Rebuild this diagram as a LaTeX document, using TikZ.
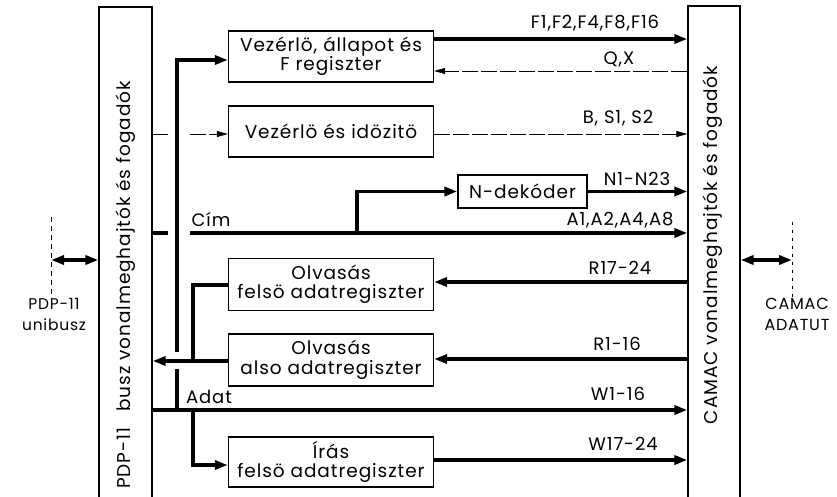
\documentclass[tikz,border=0pt]{standalone}
\usepackage{fontspec}
\setmainfont{Poppins}[LetterSpace=5]
\usetikzlibrary{arrows.meta}
\begin{document}
\begin{tikzpicture}[x=1pt,y=-1pt,
  every node/.style={font=\fontsize{18}{20}\selectfont},
  blk/.style={draw, line width=1.3pt, minimum width=205pt, minimum height=51pt, inner sep=0pt, align=center, font=\fontsize{18.5}{19.5}\selectfont},
  busbox/.style={draw, line width=1.3pt, minimum width=53pt, inner sep=0pt},
  bus/.style={line width=3.6pt},
  thinl/.style={line width=0.7pt, dash pattern=on 16pt off 3pt},
  tip/.style={-{Triangle[length=13pt,width=9pt]}},
  both/.style={{Triangle[length=13pt,width=9pt]}-{Triangle[length=13pt,width=9pt]}},
  tipt/.style={-{Triangle[length=11pt,width=6pt]}},
  lab/.style={inner sep=0pt, anchor=center},
  rot/.style={rotate=90, inner sep=0pt, font=\fontsize{18.5}{24}\selectfont}
]
\useasboundingbox (0,0) rectangle (837,497);
% bus boxes
\node[busbox, minimum height=493pt] (lbus) at (125.5,253.5) {};
\node[busbox, minimum height=494pt, minimum width=52pt] (rbus) at (714,253) {};
\node[rot] (ltxt) at (126,285) {PDP-11\hspace{16pt}busz vonalmeghajtók és fogadók};
\node[rot] (rtxt) at (713,245) {CAMAC vonalmeghajtók és fogadók};
% blocks
\node[blk] (b1) at (331,56.5) {Vezérlö, állapot és\\F regiszter};
\node[blk] (b2) at (331,131.5) {Vezérlö és idözitö};
\node[draw, line width=1.3pt, minimum width=129pt, minimum height=33pt, inner sep=0pt, font=\fontsize{18.5}{19.5}\selectfont] (nd) at (522.5,191.5) {N-dekóder};
\node[blk, minimum height=52pt] (of) at (331,284.5) {Olvasás\\felsö adatregiszter};
\node[blk, minimum height=52pt] (oa) at (331,360) {Olvasás\\also adatregiszter};
\node[blk, minimum height=50pt] (ir) at (331,462) {Írás\\felsö adatregiszter};
% y-levels
\coordinate (yF) at (0,39);
\coordinate (yQ) at (0,71);
\coordinate (yB) at (0,134);
\coordinate (yA) at (0,233);
\coordinate (yR) at (0,282);
\coordinate (yOf) at (0,285);
\coordinate (yRa) at (0,359);
\coordinate (yOa) at (0,361);
\coordinate (yD) at (0,410);
\coordinate (yW) at (0,460);
\coordinate (yWi) at (0,465);
\coordinate (yX) at (0,260);
% helper points
\coordinate (g1) at (168,134);
\coordinate (g2) at (190,134);
\coordinate (g3) at (168,233);
\coordinate (g4) at (190,233);
\coordinate (vt) at (177,60);
\coordinate (va) at (177,352);
\coordinate (vb) at (177,369);
\coordinate (vc) at (177,410);
\coordinate (nb) at (357,233);
\coordinate (j1) at (193,285);
\coordinate (j2) at (193,361);
\coordinate (j3) at (193,410);
\coordinate (pl) at (51,260);
\coordinate (pt) at (51,217);
\coordinate (pb) at (51,300);
\coordinate (cr) at (792,260);
\coordinate (ct) at (792,222);
\coordinate (cb) at (792,302);
% connectors
\draw[bus, tip] (b1.east |- yF) -- (rbus.west |- yF);
\draw[thinl, tipt] (rbus.west |- yQ) -- (b1.east |- yQ);
\draw[thinl] (lbus.east |- yB) -- (g1);
\draw[thinl, tipt] (g2) -- (b2.west |- yB);
\draw[thinl, tipt] (b2.east |- yB) -- (rbus.west |- yB);
\draw[bus, tip] (nd.east) -- (rbus.west |- nd.east);
\draw[bus] (lbus.east |- yA) -- (g3);
\draw[bus, tip] (g4) -- (rbus.west |- yA);
\draw[bus, tip] (nb) |- (nd.west);
\draw[bus, tip] (rbus.west |- yR) -- (of.east |- yR);
\draw[bus] (of.west |- yOf) -- (j1) -- (j2);
\draw[bus, tip] (rbus.west |- yRa) -- (oa.east |- yRa);
\draw[bus, tip] (oa.west |- yOa) -- (lbus.east |- yOa);
\draw[bus, tip] (va) -- (vt) -- (b1.west |- vt);
\draw[bus] (vb) -- (vc);
\draw[bus, tip] (lbus.east |- yD) -- (rbus.west |- yD);
\draw[bus, tip] (j3) |- (ir.west |- yWi);
\draw[bus, tip] (ir.east |- yW) -- (rbus.west |- yW);
\draw[bus, both] (pl) -- (lbus.west |- yX);
\draw[thinl, dash pattern=on 5pt off 4pt] (pt) -- (pb);
\draw[bus, both] (rbus.east |- yX) -- (cr);
\draw[thinl, dash pattern=on 3pt off 5pt] (ct) -- (cb);
% labels
\node[lab] (lF) at (595,23) {F1,F2,F4,F8,F16};
\node[lab] (lQ) at (619,59) {Q,X};
\node[lab] (lB) at (618,118) {B, S1, S2};
\node[lab] (lN) at (637,179) {N1-N23};
\node[lab] (lA) at (620,220) {A1,A2,A4,A8};
\node[lab] (lC) at (211,220) {Cím};
\node[lab] (lR1) at (620,268) {R17-24};
\node[lab] (lR2) at (617,344) {R1-16};
\node[lab] (lD) at (209,397) {Adat};
\node[lab] (lW1) at (618,394) {W1-16};
\node[lab] (lW2) at (623,444) {W17-24};
\node[lab, align=center, font=\fontsize{15.5}{21}\selectfont] (lP) at (54,314) {PDP-11\\unibusz};
\node[lab, align=center, font=\fontsize{16}{21}\selectfont] (lK) at (797,314) {CAMAC\\ADATUT};
\end{tikzpicture}
\end{document}
